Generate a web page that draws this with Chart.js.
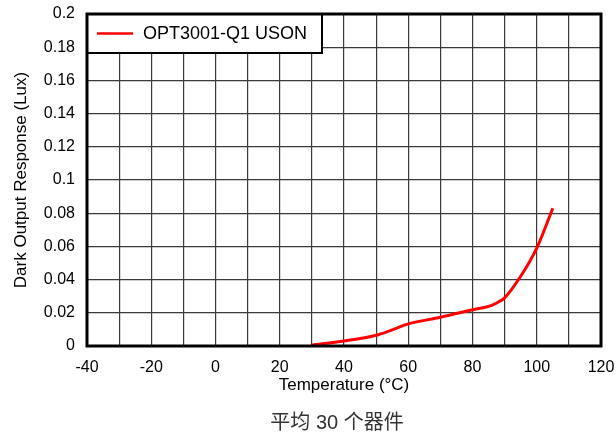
<!DOCTYPE html>
<html>
<head>
<meta charset="utf-8">
<script src="https://cdn.jsdelivr.net/npm/chart.js@4"></script>
<style>
  html, body { margin: 0; padding: 0; background: #fff; }
  #wrap { width: 616px; height: 436px; }
</style>
</head>
<body>
<div id="wrap"><canvas id="chart" width="616" height="436"></canvas></div>
<script>
// Temperature (°C) and averaged dark response (lux)
const temps = [30, 40, 50, 54, 60, 70, 80, 86, 89, 90, 95, 100, 105];
const response = [0.0005, 0.003, 0.0065, 0.009, 0.0133, 0.0173, 0.0218, 0.0245, 0.0275, 0.029, 0.042, 0.059, 0.083];
const seriesName = "OPT3001-Q1 USON";
const xTicks = [-40, -20, 0, 20, 40, 60, 80, 100, 120];
const caption = "平均 30 个器件";

const fontFamily = "'Liberation Sans', Arial, sans-serif";

// frame round the plot area, the boxed legend in its top-left corner, and the caption
const frameAndLegend = {
    id: "frameAndLegend",
    afterDraw(chart) {
        const ctx = chart.ctx;
        const a = chart.chartArea;
        ctx.save();

        // legend box
        const boxRight = 322, boxBottom = 53;
        ctx.fillStyle = "#fff";
        ctx.fillRect(a.left, a.top, boxRight - a.left, boxBottom - a.top);
        ctx.strokeStyle = "#000";
        ctx.lineWidth = 2;
        ctx.strokeRect(a.left, a.top, boxRight - a.left, boxBottom - a.top);

        const ds = chart.data.datasets[0];
        const midY = (a.top + boxBottom) / 2;
        ctx.strokeStyle = ds.borderColor;
        ctx.lineWidth = 2.5;
        ctx.beginPath();
        ctx.moveTo(a.left + 10, midY);
        ctx.lineTo(a.left + 46, midY);
        ctx.stroke();
        ctx.fillStyle = "#000";
        ctx.font = "18px " + fontFamily;
        ctx.textBaseline = "middle";
        ctx.fillText(ds.label, a.left + 56, midY + 1);

        // thick frame
        ctx.strokeStyle = "#000";
        ctx.lineWidth = 3;
        ctx.strokeRect(a.left, a.top, a.right - a.left, a.bottom - a.top);

        // caption under the chart
        ctx.fillStyle = "#333";
        ctx.font = "20px 'Liberation Sans', 'Noto Sans CJK SC', sans-serif";
        ctx.textAlign = "center";
        ctx.fillText(caption, 337, 423);
        ctx.restore();
    }
};

const ctx = document.getElementById("chart").getContext("2d");
new Chart(ctx, {
    type: "line",
    data: {
        datasets: [
            {
                label: seriesName,
                data: temps.map((t, i) => ({ x: t, y: response[i] })),
                borderColor: "#ff0000",
                borderWidth: 3,
                pointRadius: 0,
                cubicInterpolationMode: "monotone",
                fill: false,
            },
        ],
    },
    options: {
        responsive: false,
        animation: false,
        layout: { padding: { left: 11, right: 15, top: 14, bottom: 42 } },
        plugins: {
            legend: { display: false },
            tooltip: { enabled: false },
        },
        scales: {
            x: {
                type: "linear",
                min: -40,
                max: 120,
                afterFit: (scale) => {
                    scale.height = 48;
                    scale.paddingLeft = 0;
                    scale.paddingRight = 0;
                },
                ticks: {
                    stepSize: 10,
                    padding: 12,
                    color: "#000",
                    font: { family: fontFamily, size: 16, lineHeight: 1.2 },
                    callback: (v) => (xTicks.includes(v) ? String(v) : ""),
                    maxRotation: 0,
                    autoSkip: false,
                },
                grid: { color: "#3a3a3a", lineWidth: 1.2, drawTicks: false },
                border: { display: false },
                title: {
                    display: true,
                    text: "Temperature (°C)",
                    color: "#000",
                    font: { family: fontFamily, size: 17, lineHeight: 1 },
                    padding: 0,
                },
            },
            y: {
                min: 0,
                max: 0.2,
                afterFit: (scale) => {
                    scale.width = 76;
                    scale.paddingTop = 0;
                    scale.paddingBottom = 0;
                },
                ticks: {
                    stepSize: 0.02,
                    padding: 12,
                    color: "#000",
                    font: { family: fontFamily, size: 16 },
                    callback: (v) => String(parseFloat(v.toFixed(2))),
                },
                grid: { color: "#3a3a3a", lineWidth: 1.2, drawTicks: false },
                border: { display: false },
                title: {
                    display: true,
                    text: "Dark Output Response (Lux)",
                    color: "#000",
                    font: { family: fontFamily, size: 17, lineHeight: 1.2 },
                    padding: 0,
                },
            },
        },
    },
    plugins: [frameAndLegend],
});
</script>
</body>
</html>
